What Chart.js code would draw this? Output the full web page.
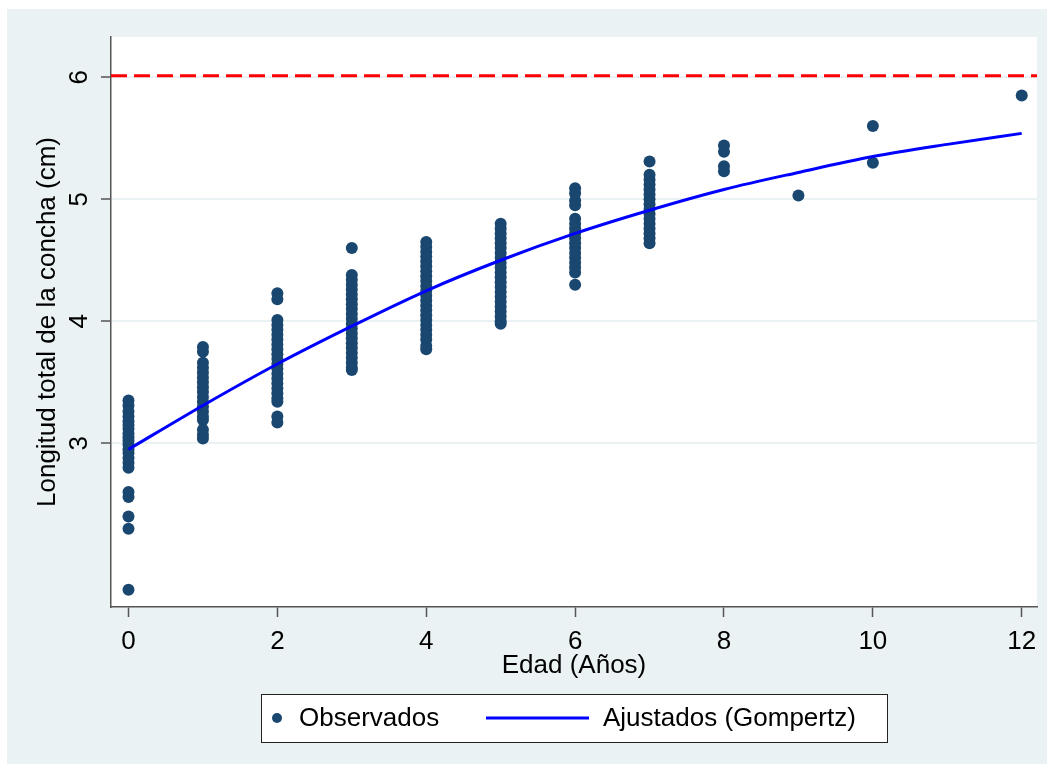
<!DOCTYPE html>
<html lang="es">
<head>
<meta charset="utf-8">
<title>Crecimiento de la concha</title>
<script src="https://cdn.jsdelivr.net/npm/chart.js@4.4.1/dist/chart.umd.min.js"></script>
<style>
  html, body { margin: 0; padding: 0; background: #fff; }
  canvas { display: block; }
</style>
</head>
<body>
<canvas id="grafico" width="1054" height="772"></canvas>
<script>
// edades (años) con longitudes observadas, una lista por edad
const edadesObs = [0, 1, 2, 3, 4, 5, 6, 7, 8, 9, 10, 12];
const longitudesObs = [
  [3.35, 3.31, 3.26, 3.22, 3.18, 3.15, 3.12, 3.08, 3.05, 3.02, 2.99, 2.95, 2.92, 2.88, 2.84, 2.80, 2.60, 2.56, 2.40, 2.30, 1.80],
  [3.79, 3.75, 3.66, 3.62, 3.58, 3.54, 3.50, 3.46, 3.42, 3.38, 3.34, 3.30, 3.26, 3.22, 3.19, 3.11, 3.07, 3.04],
  [4.23, 4.18, 4.01, 3.97, 3.93, 3.89, 3.85, 3.81, 3.77, 3.73, 3.69, 3.65, 3.61, 3.57, 3.53, 3.49, 3.45, 3.41, 3.37, 3.34, 3.22, 3.17],
  [4.60, 4.38, 4.34, 4.30, 4.26, 4.22, 4.18, 4.14, 4.10, 4.06, 4.02, 3.98, 3.94, 3.90, 3.86, 3.82, 3.78, 3.74, 3.70, 3.66, 3.62, 3.60],
  [4.65, 4.61, 4.57, 4.53, 4.49, 4.45, 4.41, 4.37, 4.33, 4.29, 4.25, 4.21, 4.17, 4.13, 4.09, 4.05, 4.01, 3.97, 3.93, 3.89, 3.85, 3.80, 3.77],
  [4.80, 4.76, 4.72, 4.68, 4.64, 4.60, 4.56, 4.52, 4.48, 4.44, 4.40, 4.36, 4.32, 4.28, 4.24, 4.20, 4.16, 4.12, 4.08, 4.04, 4.00, 3.98],
  [5.09, 5.05, 4.99, 4.95, 4.84, 4.80, 4.76, 4.72, 4.68, 4.64, 4.60, 4.56, 4.52, 4.48, 4.44, 4.40, 4.30],
  [5.31, 5.20, 5.16, 5.12, 5.08, 5.04, 5.00, 4.96, 4.92, 4.88, 4.84, 4.80, 4.76, 4.72, 4.68, 4.64],
  [5.44, 5.39, 5.27, 5.23],
  [5.03],
  [5.60, 5.30],
  [5.85]
];

// curva ajustada (Gompertz) y su asintota
const edadesAjuste = [0, 1, 2, 3, 4, 5, 6, 7, 8, 9, 10, 11, 12];
const longitudAjuste = [2.95, 3.31, 3.65, 3.96, 4.25, 4.50, 4.72, 4.91, 5.08, 5.22, 5.35, 5.45, 5.54];
const asintota = 6.013;

const ticksX = [0, 2, 4, 6, 8, 10, 12];
const ticksY = [3, 4, 5, 6];
const rangoX = [-0.235, 12.205];
const rangoY = [1.658, 6.33];

const azulMarino = '#1a476f';
const fondoGris = '#eaf2f3';
const ejeColor = '#555555';

const puntos = [];
edadesObs.forEach((edad, i) => {
  longitudesObs[i].forEach(l => puntos.push({ x: edad, y: l }));
});

Chart.defaults.font.family = '"Liberation Sans", Arial, sans-serif';
Chart.defaults.color = '#000';

const fondo = {
  id: 'fondo',
  beforeDraw(chart) {
    const { ctx, chartArea: a } = chart;
    ctx.save();
    ctx.fillStyle = '#ffffff';
    ctx.fillRect(0, 0, chart.width, chart.height);
    ctx.fillStyle = fondoGris;
    ctx.fillRect(7, 9, 1040, 755);
    ctx.fillStyle = '#ffffff';
    ctx.fillRect(a.left, a.top, a.right - a.left, a.bottom - a.top);
    ctx.restore();
  }
};

// leyenda con recuadro, debajo del eje x
const leyenda = {
  id: 'leyenda',
  afterDraw(chart) {
    const { ctx, chartArea: a } = chart;
    const w = 626, h = 48;
    const x0 = Math.round((a.left + a.right) / 2 - w / 2);
    const y0 = 694;
    const yc = y0 + h / 2;
    ctx.save();
    ctx.fillStyle = '#ffffff';
    ctx.fillRect(x0, y0, w, h);
    ctx.strokeStyle = '#222';
    ctx.lineWidth = 1;
    ctx.strokeRect(x0 + 0.5, y0 + 0.5, w, h);

    ctx.fillStyle = azulMarino;
    ctx.beginPath();
    ctx.arc(x0 + 16, yc, 5, 0, Math.PI * 2);
    ctx.fill();

    ctx.strokeStyle = '#0000ff';
    ctx.lineWidth = 3;
    ctx.beginPath();
    ctx.moveTo(x0 + 225, yc);
    ctx.lineTo(x0 + 328, yc);
    ctx.stroke();

    ctx.fillStyle = '#000';
    ctx.font = '26px "Liberation Sans", Arial, sans-serif';
    ctx.textBaseline = 'middle';
    ctx.fillText('Observados', x0 + 38, yc + 1);
    ctx.fillText('Ajustados (Gompertz)', x0 + 342, yc + 1);
    ctx.restore();
  }
};

new Chart(document.getElementById('grafico'), {
  type: 'scatter',
  data: {
    datasets: [
      {
        type: 'line',
        label: 'Asintota',
        data: [{ x: rangoX[0], y: asintota }, { x: rangoX[1], y: asintota }],
        borderColor: '#ff0000',
        borderWidth: 3,
        borderDash: [16, 7],
        pointRadius: 0,
        order: 0
      },
      {
        type: 'line',
        label: 'Ajustados (Gompertz)',
        data: edadesAjuste.map((e, i) => ({ x: e, y: longitudAjuste[i] })),
        borderColor: '#0000ff',
        borderWidth: 3,
        pointRadius: 0,
        cubicInterpolationMode: 'monotone',
        order: 1
      },
      {
        label: 'Observados',
        data: puntos,
        backgroundColor: azulMarino,
        pointRadius: 6,
        pointBorderWidth: 0,
        order: 2
      }
    ]
  },
  options: {
    responsive: false,
    animation: false,
    layout: { padding: { top: 37, right: 17, left: 0, bottom: 85 } },
    plugins: {
      legend: { display: false },
      tooltip: { enabled: false }
    },
    scales: {
      x: {
        type: 'linear',
        min: rangoX[0],
        max: rangoX[1],
        afterBuildTicks: s => { s.ticks = ticksX.map(v => ({ value: v })); },
        afterFit: s => { s.height = 80; },
        border: { color: ejeColor, width: 1.5 },
        grid: { drawOnChartArea: false, tickColor: ejeColor, tickWidth: 1.5, tickLength: 10 },
        ticks: { font: { size: 26 }, padding: 9, color: '#000' },
        title: {
          display: true,
          text: 'Edad (Años)',
          font: { size: 26 },
          padding: { top: 0, bottom: 6 },
          color: '#000'
        }
      },
      y: {
        type: 'linear',
        min: rangoY[0],
        max: rangoY[1],
        afterBuildTicks: s => { s.ticks = ticksY.map(v => ({ value: v })); },
        afterFit: s => { s.width = 111; },
        border: { color: ejeColor, width: 1.5 },
        grid: { color: fondoGris, lineWidth: 2, tickColor: ejeColor, tickWidth: 1.5, tickLength: 10 },
        ticks: {
          font: { size: 26 },
          minRotation: 90,
          maxRotation: 90,
          crossAlign: 'center',
          padding: 14,
          color: '#000'
        },
        title: {
          display: true,
          text: 'Longitud total de la concha (cm)',
          font: { size: 26 },
          padding: { top: 32, bottom: 0 },
          color: '#000'
        }
      }
    }
  },
  plugins: [fondo, leyenda]
});
</script>
</body>
</html>
